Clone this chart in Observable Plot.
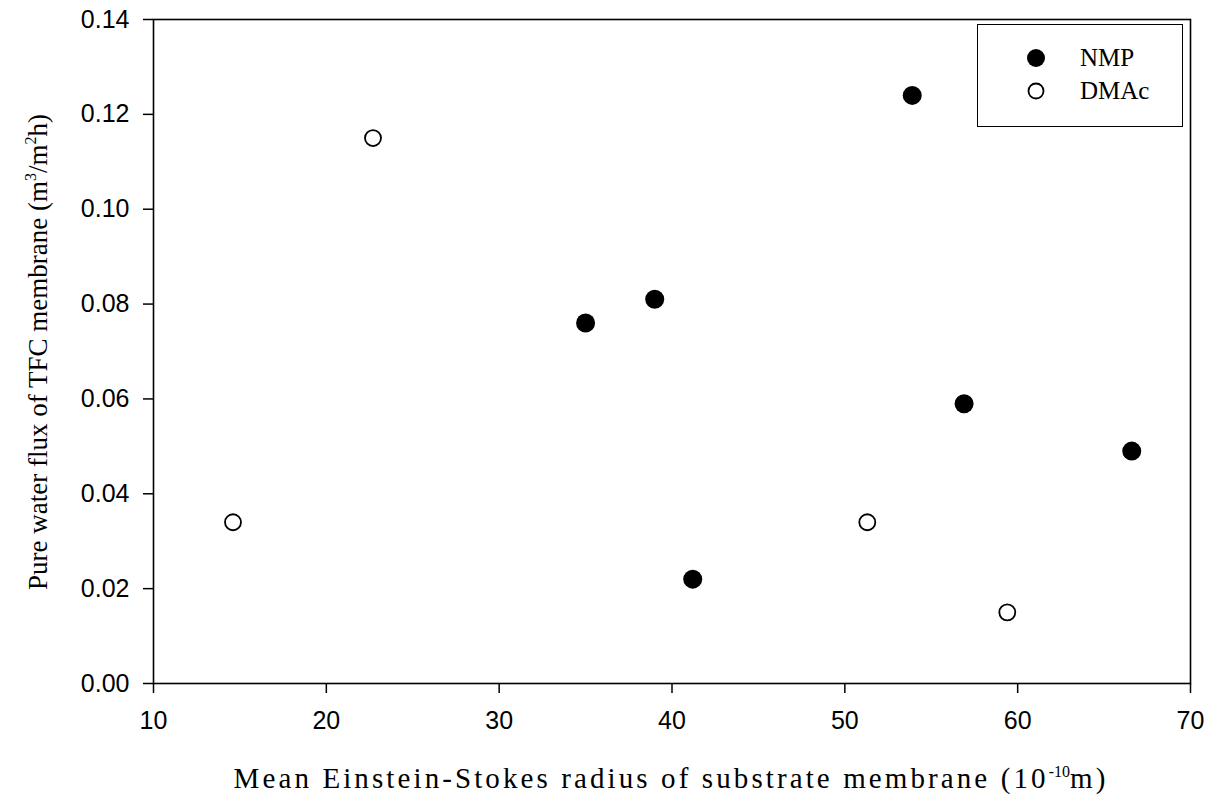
<!DOCTYPE html>
<html><head><meta charset="utf-8">
<script src="https://cdn.jsdelivr.net/npm/d3@7"></script>
<script src="https://cdn.jsdelivr.net/npm/@observablehq/plot@0.6"></script>
<style>
body{margin:0;background:#fff;}
#wrap{position:relative;width:1225px;height:801px;overflow:hidden;}
.legend{position:absolute;left:977px;top:24px;width:206px;height:103px;border:1.5px solid #000;box-sizing:border-box;background:#fff;font-family:"Liberation Serif","Times New Roman",serif;font-size:25px;color:#000;}
.legend .row{position:absolute;left:0;display:flex;align-items:center;height:30px;}
.legend .row span{margin-left:34px;}
.ytitle{position:absolute;left:38px;top:352px;transform:translate(-50%,-50%) rotate(-90deg);white-space:nowrap;font-family:"Liberation Serif","Times New Roman",serif;font-size:27px;color:#000;}
.xtitle{position:absolute;left:671px;top:762px;transform:translateX(-50%);white-space:nowrap;font-family:"Liberation Serif","Times New Roman",serif;font-size:29px;letter-spacing:3.1px;color:#000;}
sup{font-size:16px;vertical-align:11px;line-height:0;letter-spacing:0;}
</style></head><body><div id="wrap"></div>
<script>
// Data
const seriesNames = ["NMP", "DMAc"];
const nmpX = [35.0, 39.0, 41.2, 53.9, 56.9, 66.6];
const nmpY = [0.076, 0.081, 0.022, 0.124, 0.059, 0.049];
const dmacX = [14.6, 22.7, 51.3, 59.4];
const dmacY = [0.034, 0.115, 0.034, 0.015];
const xTicks = [10, 20, 30, 40, 50, 60, 70];
const yTicks = [0.00, 0.02, 0.04, 0.06, 0.08, 0.10, 0.12, 0.14];

const nmp = nmpX.map((x, i) => ({x, y: nmpY[i], s: seriesNames[0]}));
const dmac = dmacX.map((x, i) => ({x, y: dmacY[i], s: seriesNames[1]}));

const tickFont = {fontFamily: "'Liberation Sans', Arial, sans-serif", fontSize: 25};

const chart = Plot.plot({
  width: 1225,
  height: 801,
  marginLeft: 153,
  marginRight: 35,
  marginTop: 19,
  marginBottom: 118,
  style: {background: "#fff", color: "#000", overflow: "visible"},
  x: {domain: [10, 70], ticks: xTicks},
  y: {domain: [0, 0.14], ticks: yTicks},
  marks: [
    Plot.frame({stroke: "#000", strokeWidth: 1.6}),
    Plot.axisX({ticks: xTicks, tickSize: 10, tickPadding: 18, label: null, tickFormat: d3.format("d"), ...tickFont, strokeWidth: 1.5}),
    Plot.axisY({ticks: yTicks, tickSize: 10, tickPadding: 14, label: null, tickFormat: d3.format(".2f"), ...tickFont, strokeWidth: 1.5}),
    Plot.dot(dmac, {x: "x", y: "y", r: 8, stroke: "#000", strokeWidth: 1.8, fill: "#fff"}),
    Plot.dot(nmp, {x: "x", y: "y", r: 9.5, fill: "#000", stroke: "none"})
  ]
});

const wrap = document.getElementById("wrap");
wrap.appendChild(chart);

// Legend (inside plot, top right)
const legend = document.createElement("div");
legend.className = "legend";
const markers = [
  `<svg width="20" height="20"><circle cx="10" cy="10" r="9" fill="#000"/></svg>`,
  `<svg width="20" height="20"><circle cx="10" cy="10" r="7.5" fill="#fff" stroke="#000" stroke-width="1.8"/></svg>`
];
seriesNames.forEach((name, i) => {
  const row = document.createElement("div");
  row.className = "row";
  row.style.top = (18 + i * 33) + "px";
  row.style.left = "48px";
  row.innerHTML = markers[i] + `<span>${name}</span>`;
  legend.appendChild(row);
});
wrap.appendChild(legend);

// Axis titles
const yt = document.createElement("div");
yt.className = "ytitle";
yt.innerHTML = "Pure water flux of TFC membrane (m<sup>3</sup>/m<sup>2</sup>h)";
wrap.appendChild(yt);
const xt = document.createElement("div");
xt.className = "xtitle";
xt.innerHTML = "Mean Einstein-Stokes radius of substrate membrane (10<sup>-10</sup>m)";
wrap.appendChild(xt);
</script>
</body></html>
